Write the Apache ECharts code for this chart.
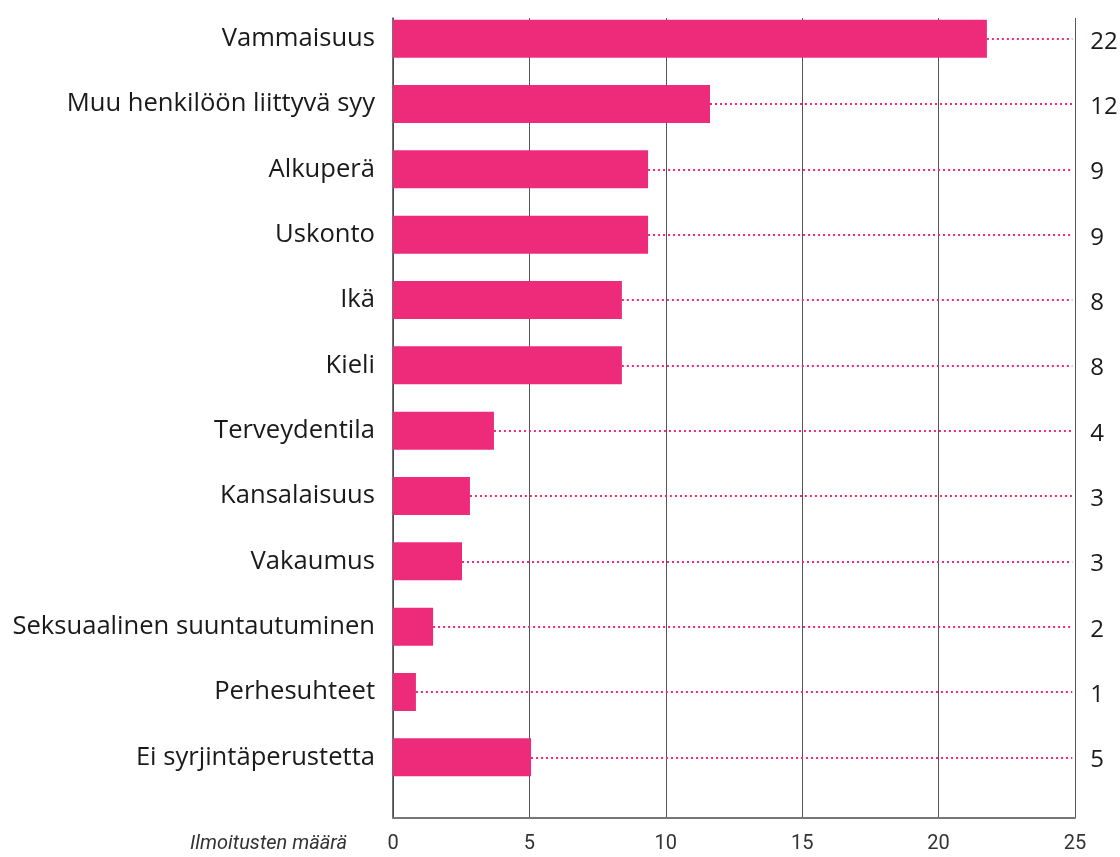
<!DOCTYPE html>
<html><head><meta charset="utf-8">
<script src="https://cdn.jsdelivr.net/npm/echarts@6/dist/echarts.min.js"></script>
<style>html,body{margin:0;padding:0;background:#fff}#c{width:1120px;height:857px}</style>
</head><body><div id="c"></div>
<script>
const categories = ['Vammaisuus','Muu henkilöön liittyvä syy','Alkuperä','Uskonto','Ikä','Kieli','Terveydentila','Kansalaisuus','Vakaumus','Seksuaalinen suuntautuminen','Perhesuhteet','Ei syrjintäperustetta'];
const values = [21.77, 11.62, 9.35, 9.35, 8.39, 8.39, 3.70, 2.82, 2.53, 1.47, 0.84, 5.06];
const valueLabels = ['22','12','9','9','8','8','4','3','3','2','1','5'];
const xTicks = [0,5,10,15,20,25];
const axisTitle = 'Ilmoitusten määrä';
const lineEnd = 24.9;

const FONT = '"Open Sans"';
const pink = '#EE2A7B';
const chart = echarts.init(document.getElementById('c'));
chart.setOption({
  animation: false,
  grid: [
    {left: 393, right: 45, top: 18, bottom: 39},
    {left: 393, right: 45, top: 6, bottom: 67}
  ],
  xAxis: [
    {gridIndex: 0, type: 'value', min: 0, max: 25, interval: 5,
     axisLine: {show: true, lineStyle: {color: '#777', width: 2}},
     axisTick: {show: false},
     splitLine: {show: true, lineStyle: {color: '#555', width: 1}},
     axisLabel: {fontFamily: 'Roboto', fontSize: 20, color: '#333', margin: 16,
       formatter: v => xTicks.includes(v) ? String(v) : ''}},
    {gridIndex: 1, type: 'value', min: 0, max: 25, show: false}
  ],
  yAxis: [
    {gridIndex: 0, type: 'value', min: 0, max: 1, show: true,
     axisLine: {show: true, lineStyle: {color: '#444', width: 1.5}},
     axisTick: {show: false}, axisLabel: {show: false}, splitLine: {show: false}},
    {gridIndex: 1, type: 'category', data: categories, inverse: true,
     axisLine: {show: false}, axisTick: {show: false},
     axisLabel: {fontFamily: FONT, fontSize: 25.6, color: '#1a1a1a', margin: 18, padding: [8, 0, 0, 0]}}
  ],
  graphic: [{type: 'text', right: 1120 - 347, top: 834,
    style: {text: axisTitle, font: 'italic 20px Roboto', fill: '#333', textAlign: 'right'}}],
  series: [{
    type: 'bar', xAxisIndex: 1, yAxisIndex: 1, data: values, barWidth: 38,
    itemStyle: {color: pink},
    markLine: {
      silent: true, symbol: 'none',
      lineStyle: {color: pink, type: [2, 3], width: 2},
      label: {show: true, position: 'end', distance: 18, fontFamily: FONT, fontSize: 24, color: '#1a1a1a',
        offset: [0, 3],
        formatter: p => p.data.lbl !== undefined ? p.data.lbl : ''},
      data: values.map((v, i) => [
        {coord: [v, categories[i]], lbl: valueLabels[i]},
        {coord: [lineEnd, categories[i]]}
      ])
    }
  }]
});
</script></body></html>
